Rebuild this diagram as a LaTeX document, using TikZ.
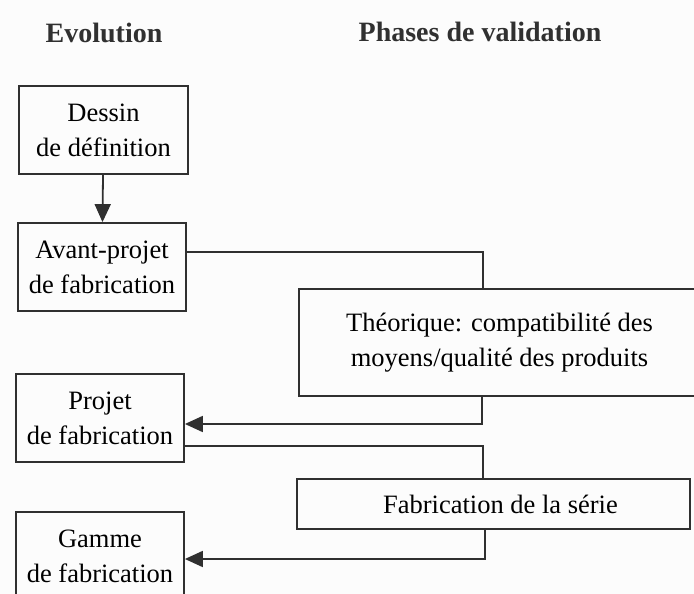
\documentclass[tikz,border=0pt]{standalone}
\usepackage{fontspec}
\setmainfont{Liberation Serif}
\usetikzlibrary{arrows.meta}
\definecolor{trait}{HTML}{303030}
\definecolor{fond}{HTML}{FCFCFC}
\begin{document}
\begin{tikzpicture}[
                x=1pt, y=-1pt,
                etape/.style={draw=trait, line width=1.8pt, minimum width=168pt, minimum height=88pt, inner sep=0pt, align=center, font=\fontsize{26.5}{35}\selectfont},
                titre/.style={font=\fontsize{28}{34}\selectfont\bfseries, text=trait},
                lien/.style={draw=trait, line width=1.8pt},
                fleche/.style={lien, -{Triangle[length=18pt,width=16pt]}},
            ]
            \fill[fond] (0,0) rectangle (694,594);
            \clip (0,0) rectangle (694,594);
            \node[titre] (evol) at (104, 33) {Evolution};
            \node[titre] (phases) at (480, 32) {Phases de validation};
            \node[etape, minimum width=169pt] (dessin) at (103.5, 130) {Dessin\\de définition};
            \node[etape] (avant) at (102, 267) {Avant-projet\\de fabrication};
            \node[etape] (projet) at (100, 418) {Projet\\de fabrication};
            \node[etape] (gamme) at (100, 556) {Gamme\\de fabrication};
            \node[etape, minimum width=401pt, minimum height=107pt] (theo) at (499.5, 342.5) {Théorique: compatibilité des\\moyens/qualité des produits};
            \node[etape, minimum width=393pt, minimum height=50pt] (serie) at (493.5, 504) {\hspace*{14pt}Fabrication de la série};
            \draw[fleche] (dessin) -- (avant);
            \draw[lien] ([yshift=15pt]avant.east) -| ([xshift=-16.5pt]theo.north);
            \draw[fleche] ([xshift=-17.5pt]theo.south) |- ([yshift=-6pt]projet.east);
            \draw[lien] ([yshift=-28pt]projet.east) -| ([xshift=-10.5pt]serie.north);
            \draw[fleche] ([xshift=-8.5pt]serie.south) |- ([yshift=-3pt]gamme.east);
        \end{tikzpicture}
\end{document}
